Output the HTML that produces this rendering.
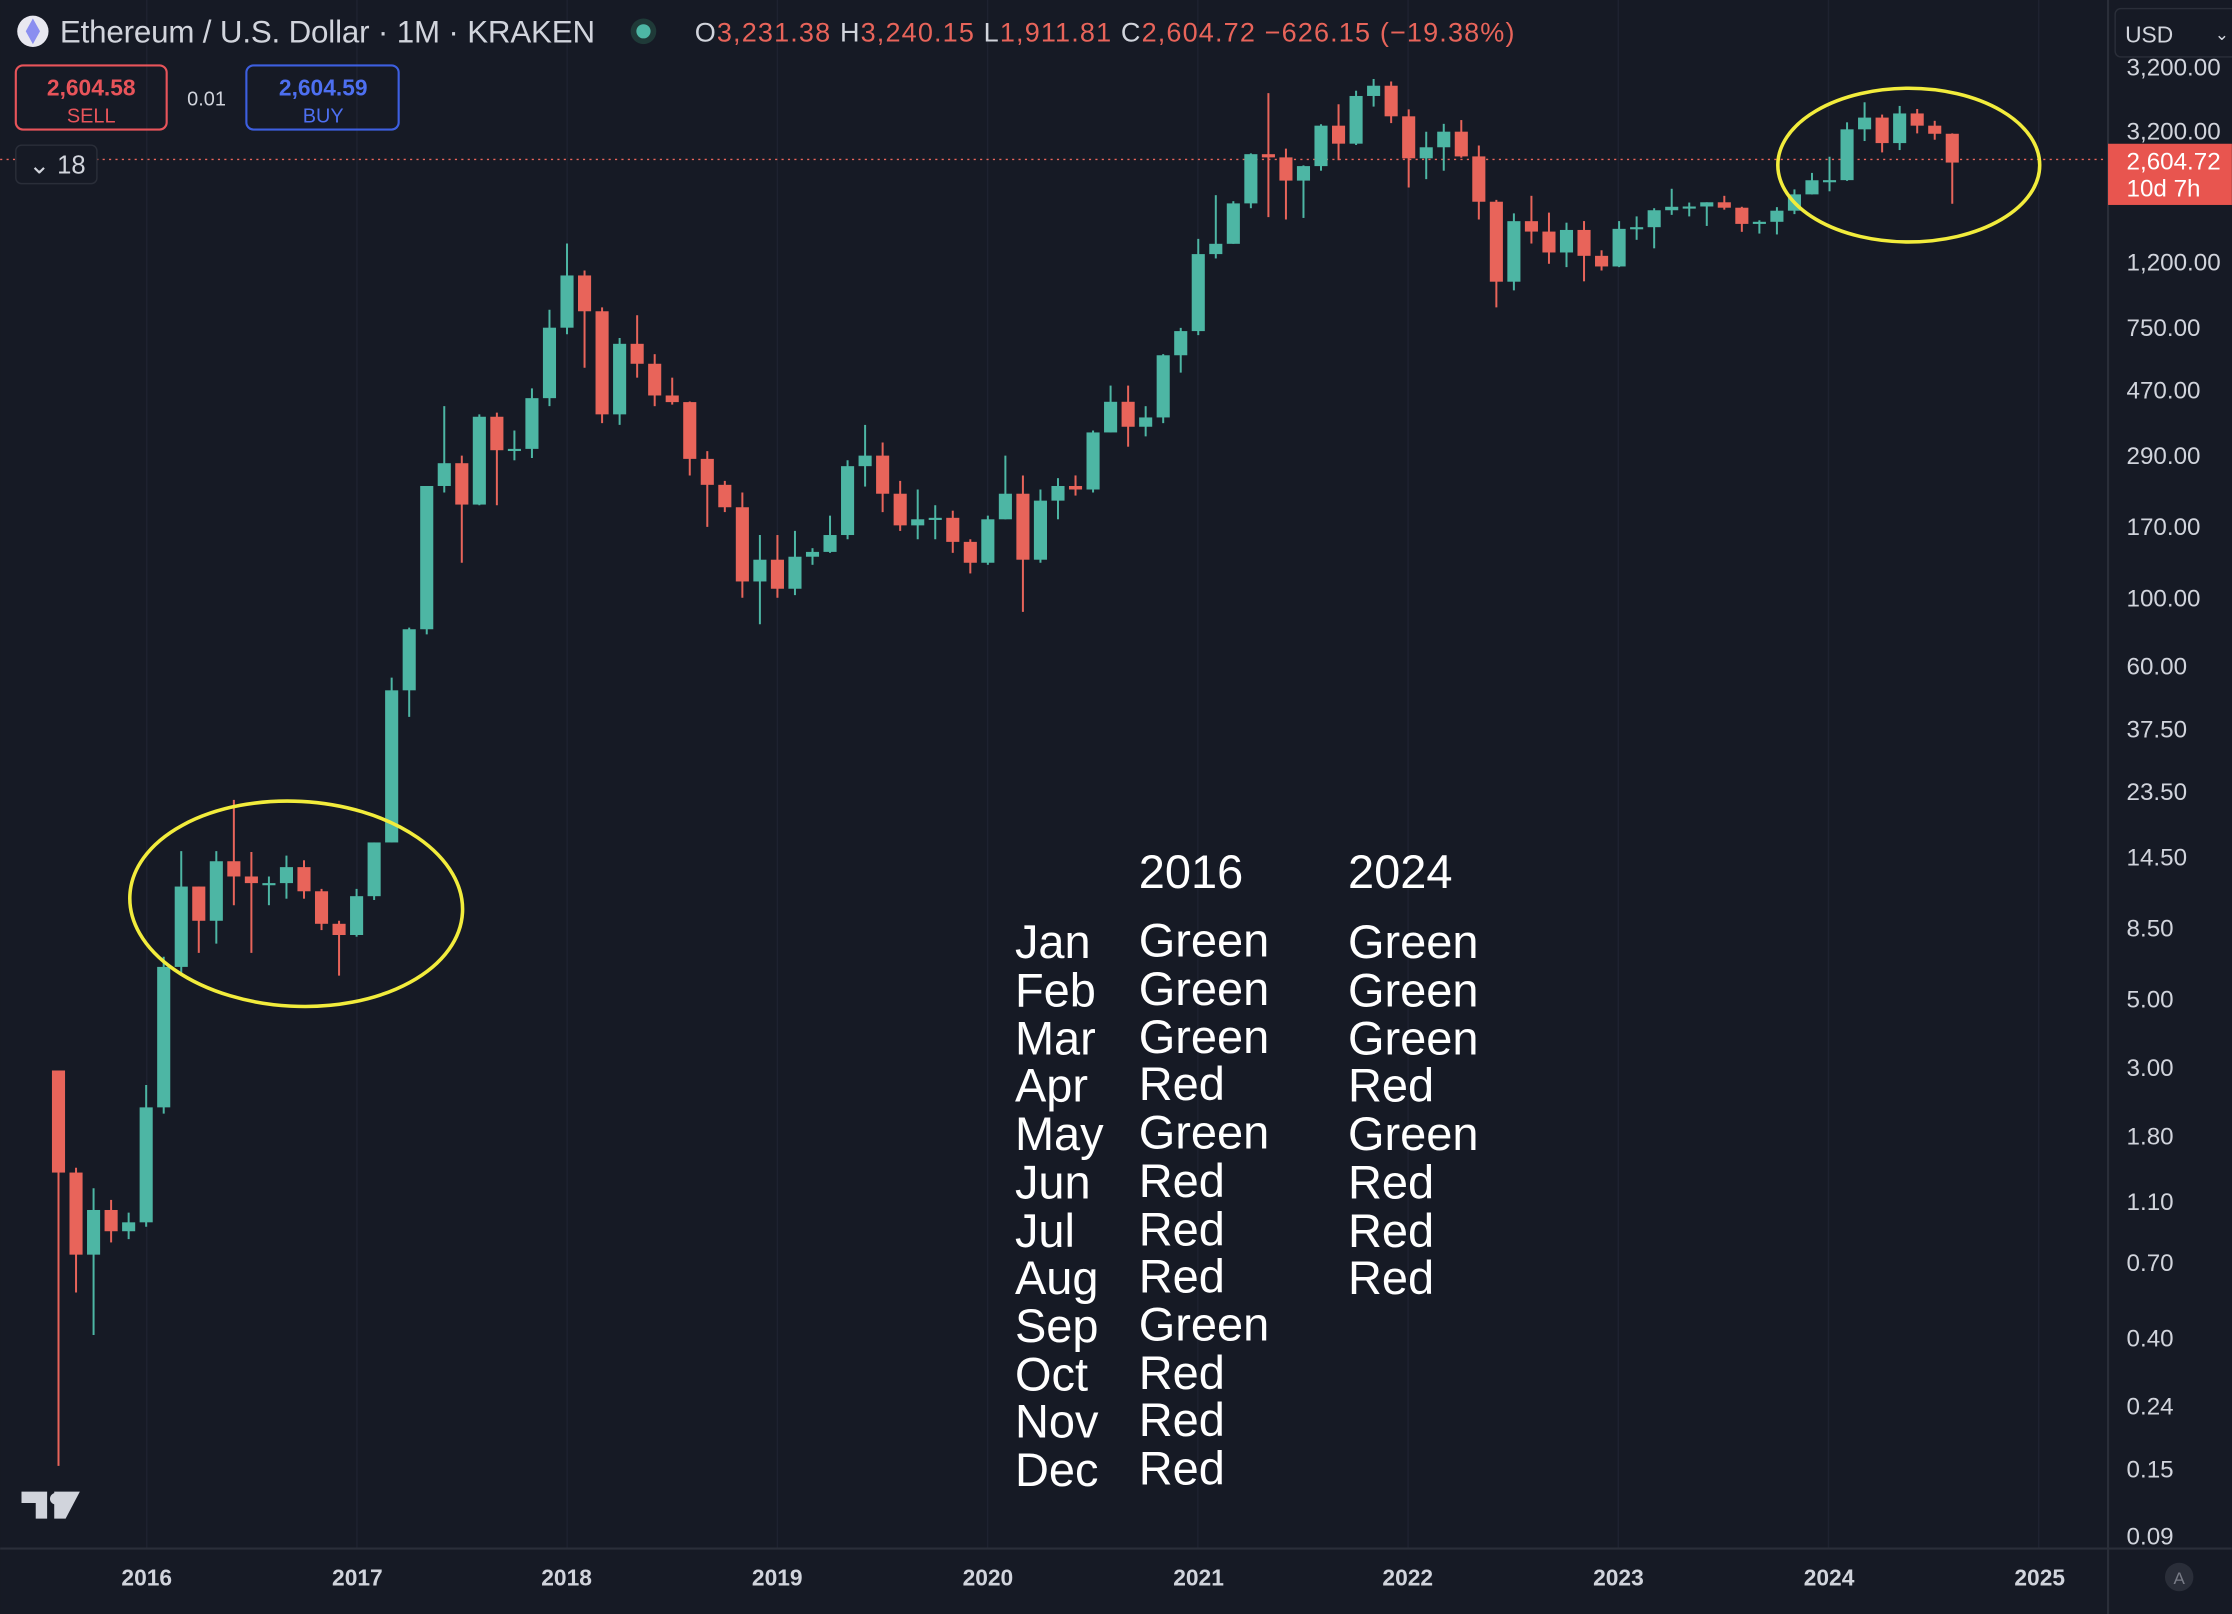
<!DOCTYPE html>
<html><head><meta charset="utf-8"><style>
html,body{margin:0;padding:0;background:#161a25;width:2232px;height:1614px;overflow:hidden}
svg{display:block}
text{font-family:"Liberation Sans",sans-serif}
</style></head><body>
<svg id="s" width="2232" height="1614" viewBox="0 0 1568 1134" xmlns="http://www.w3.org/2000/svg">
<rect width="1568" height="1134" fill="#161a25"/>
<g id="grid" stroke="#1e2230" stroke-width="1"></g>
<line x1="0" y1="112" x2="1481" y2="112" stroke="#e8645a" stroke-width="1" stroke-dasharray="1.5,3"/>
<g id="c"></g>
<line x1="1481" y1="0" x2="1481" y2="1134" stroke="#2a2e39" stroke-width="1.5"/>
<line x1="0" y1="1088" x2="1568" y2="1088" stroke="#2a2e39" stroke-width="1.5"/>
<g font-size="17" fill="#d1d4dc">
<text x="1494" y="53">3,200.00</text>
<text x="1494" y="98">3,200.00</text>
<text x="1494" y="190">1,200.00</text>
<text x="1494" y="236">750.00</text>
<text x="1494" y="280">470.00</text>
<text x="1494" y="326">290.00</text>
<text x="1494" y="376">170.00</text>
<text x="1494" y="426">100.00</text>
<text x="1494" y="474">60.00</text>
<text x="1494" y="518">37.50</text>
<text x="1494" y="562">23.50</text>
<text x="1494" y="608">14.50</text>
<text x="1494" y="658">8.50</text>
<text x="1494" y="708">5.00</text>
<text x="1494" y="756">3.00</text>
<text x="1494" y="804">1.80</text>
<text x="1494" y="850">1.10</text>
<text x="1494" y="893">0.70</text>
<text x="1494" y="946">0.40</text>
<text x="1494" y="994">0.24</text>
<text x="1494" y="1038">0.15</text>
<text x="1494" y="1085">0.09</text>
</g>
<rect x="1486" y="6" width="90" height="34" rx="4" fill="#161a25" stroke="#2a2e39"/>
<text x="1493" y="30" font-size="16" fill="#d1d4dc">USD</text>
<text x="1556" y="28" font-size="12" fill="#d1d4dc">⌄</text>
<rect x="1481" y="101" width="87" height="43" fill="#e8554f"/>
<text x="1494" y="119" font-size="17" fill="#fff">2,604.72</text>
<text x="1494" y="138" font-size="17" fill="#fff">10d 7h</text>
<g font-size="16" fill="#d1d4dc" font-weight="bold" text-anchor="middle">
<text x="103" y="1114">2016</text><text x="251" y="1114">2017</text><text x="398" y="1114">2018</text>
<text x="546" y="1114">2019</text><text x="694" y="1114">2020</text><text x="842" y="1114">2021</text>
<text x="989" y="1114">2022</text><text x="1137" y="1114">2023</text><text x="1285" y="1114">2024</text>
<text x="1433" y="1114">2025</text>
</g>
<circle cx="1531" cy="1108" r="10" fill="#2a2e39"/><text x="1531" y="1113" font-size="12" fill="#787b86" text-anchor="middle">A</text>
<circle cx="23" cy="22" r="11" fill="#e8e8f0"/><path d="M23 13 L28 22 L23 31 L18 22Z" fill="#8a8ef0"/>
<text x="42" y="30" font-size="22" fill="#d1d4dc" textLength="376">Ethereum / U.S. Dollar · 1M · KRAKEN</text>
<circle cx="452" cy="22" r="9" fill="#1f3a38"/><circle cx="452" cy="22" r="5" fill="#4db6a4"/>
<text x="488" y="29" font-size="19" fill="#d1d4dc" textLength="576">O<tspan fill="#e8645a">3,231.38</tspan> H<tspan fill="#e8645a">3,240.15</tspan> L<tspan fill="#e8645a">1,911.81</tspan> C<tspan fill="#e8645a">2,604.72 −626.15 (−19.38%)</tspan></text>
<rect x="11" y="46" width="106" height="45" rx="5" fill="none" stroke="#e8545a" stroke-width="1.5"/>
<text x="64" y="67" font-size="16" fill="#e8545a" text-anchor="middle" font-weight="bold">2,604.58</text>
<text x="64" y="86" font-size="14" fill="#e8545a" text-anchor="middle">SELL</text>
<text x="145" y="74" font-size="14" fill="#d1d4dc" text-anchor="middle">0.01</text>
<rect x="173" y="46" width="107" height="45" rx="5" fill="none" stroke="#3d5fe0" stroke-width="1.5"/>
<text x="227" y="67" font-size="16" fill="#4d6ff0" text-anchor="middle" font-weight="bold">2,604.59</text>
<text x="227" y="86" font-size="14" fill="#4d6ff0" text-anchor="middle">BUY</text>
<rect x="11" y="102" width="57" height="27" rx="4" fill="#161a25" stroke="#2a2e39"/>
<text x="20" y="122" font-size="18" fill="#d1d4dc">⌄ 18</text>
<path d="M15 1048 h18 v19 h-8 v-11 h-10z M38 1048 h18 l-10 19 h-8z" fill="#d1d4dc"/><circle cx="39" cy="1053" r="4" fill="#d1d4dc"/>
<ellipse cx="208" cy="635" rx="117" ry="72" fill="none" stroke="#f2ec3c" stroke-width="2.5" transform="rotate(3 208 635)"/>
<ellipse cx="1341" cy="116" rx="92" ry="54" fill="none" stroke="#f2ec3c" stroke-width="2.5"/>
<g font-size="33" fill="#ffffff">
<text x="800" y="624">2016</text><text x="947" y="624">2024</text>
<text x="713" y="673">Jan</text><text x="800" y="672">Green</text><text x="947" y="673">Green</text>
<text x="713" y="707">Feb</text><text x="800" y="706">Green</text><text x="947" y="707">Green</text>
<text x="713" y="741">Mar</text><text x="800" y="740">Green</text><text x="947" y="741">Green</text>
<text x="713" y="774">Apr</text><text x="800" y="773">Red</text><text x="947" y="774">Red</text>
<text x="713" y="808">May</text><text x="800" y="807">Green</text><text x="947" y="808">Green</text>
<text x="713" y="842">Jun</text><text x="800" y="841">Red</text><text x="947" y="842">Red</text>
<text x="713" y="876">Jul</text><text x="800" y="875">Red</text><text x="947" y="876">Red</text>
<text x="713" y="909">Aug</text><text x="800" y="908">Red</text><text x="947" y="909">Red</text>
<text x="713" y="943">Sep</text><text x="800" y="942">Green</text>
<text x="713" y="977">Oct</text><text x="800" y="976">Red</text>
<text x="713" y="1010">Nov</text><text x="800" y="1009">Red</text>
<text x="713" y="1044">Dec</text><text x="800" y="1043">Red</text>
</g>
</svg>
<script>
var d=[[2.9,0.15,1.35],[1.4,0.55,0.73],[1.2,0.4,1.02],[1.1,0.8,0.87],[1.0,0.82,0.93],[2.6,0.9,2.2],[6.8,2.1,6.3],[15,6,11.5],[11.5,7,8.9],[15,7.5,13.9],[22,10,12.4],[14.9,7,11.8],[12.4,10,11.8],[14.5,10.5,13.3],[14,10.5,11.1],[11.3,8.3,8.7],[8.9,5.9,8.0],[11.3,7.9,10.7],[16,10.4,16],[55,16,50],[80,41,79],[231,76,231],[420,220,274],[290,130,201],[395,200,388],[400,200,302],[350,280,305],[480,285,446],[865,420,756],[1420,720,1118],[1160,560,855],[880,370,395],[700,365,670],[830,520,577],[620,420,455],[520,425,433],[435,250,283],[300,170,233],[240,190,197],[220,100,113],[160,82,133],[160,100,107],[165,102,136],[145,128,141],[185,140,160],[280,155,268],[365,230,290],[320,190,218],[240,165,172],[225,155,180],[200,155,182],[192,140,152],[155,120,130],[185,128,180],[290,180,218],[250,90,133],[225,130,207],[245,180,231],[250,215,225],[350,220,345],[490,345,434],[490,310,360],[420,335,386],[620,370,615],[755,540,737],[1470,715,1312],[2040,1270,1417],[1950,1440,1918],[2790,1850,2773],[4380,1730,2707],[2890,1700,2275],[2550,1720,2536],[3470,2450,3433],[4030,2650,3000],[4460,2970,4288],[4870,3960,4630],[4780,3500,3682],[3880,2160,2688],[3280,2300,2920],[3480,2450,3282],[3580,2700,2727],[2960,1700,1942],[1970,880,1067],[1780,1000,1679],[2030,1420,1553],[1790,1220,1328],[1660,1190,1572],[1680,1070,1295],[1350,1160,1196],[1680,1190,1585],[1740,1460,1605],[1850,1370,1822],[2140,1760,1870],[1930,1740,1874],[1930,1620,1934],[2030,1830,1857],[1870,1550,1645],[1690,1530,1671],[1865,1520,1816],[2130,1770,2052],[2410,2050,2281],[2720,2100,2283],[3520,2270,3340],[4090,3060,3647],[3730,2810,3013],[3980,2860,3762],[3890,3240,3433],[3560,3090,3231],[3240,1912,2604]];
function y(p){return 420-(Math.log10(p)-2)*216;}
var g=document.getElementById('c'),gr=document.getElementById('grid'),h='',gh='';
for(var k=0;k<10;k++){var gx=103+k*147.7;gh+='<line x1="'+gx+'" y1="0" x2="'+gx+'" y2="1088"/>';}
gr.innerHTML=gh;
var o=2.9;
for(var i=0;i<d.length;i++){var H=d[i][0],L=d[i][1],C=d[i][2];var x=41+i*12.32;var col=C>=o?'#4db6a4':'#e8645a';
var t=y(Math.max(o,C)),b=y(Math.min(o,C));if(b-t<1.5)b=t+1.5;
h+='<line x1="'+x+'" y1="'+y(Math.max(H,o,C))+'" x2="'+x+'" y2="'+y(Math.min(L,o,C))+'" stroke="'+col+'" stroke-width="1.4"/>';
h+='<rect x="'+(x-4.6)+'" y="'+t+'" width="9.2" height="'+(b-t)+'" fill="'+col+'"/>';o=C;}
g.innerHTML=h;
</script>
</body></html>
